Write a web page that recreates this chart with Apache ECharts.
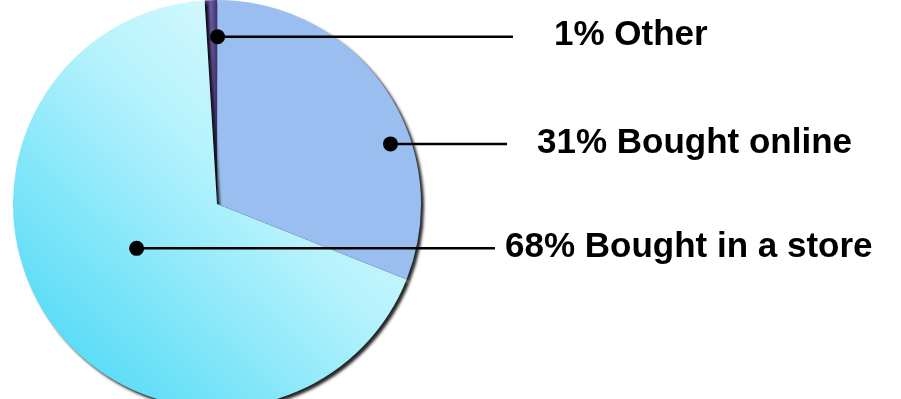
<!DOCTYPE html>
<html>
<head>
<meta charset="utf-8">
<script src="https://cdn.jsdelivr.net/npm/echarts@6/dist/echarts.min.js"></script>
<style>
html, body { margin: 0; padding: 0; background: #fff; }
#main { width: 901px; height: 399px; }
</style>
</head>
<body>
<div id="main"></div>
<script>
// data
var categories = ['Other', 'Bought online', 'Bought in a store'];
var shares = [1, 31, 68];
var labelTexts = ['1% Other', '31% Bought online', '68% Bought in a store'];

// pie geometry
var center = [217, 204];
var radius = 204;
var startAngle = 93.5;

// callouts: dot angle (deg clockwise from 12 o'clock) and distance (fraction of radius),
// where the text starts and where the leader line stops
var dotAngle = [0.2, 70.9, 241.1];
var dotRadius = [0.82, 0.90, 0.45];
var textX = [554, 537, 505];
var lineEndX = [513, 507, 495];

function dotPos(i) {
    var a = dotAngle[i] * Math.PI / 180;
    var r = dotRadius[i] * radius;
    return [center[0] + r * Math.sin(a), center[1] - r * Math.cos(a)];
}

var sliceColors = [
    new echarts.graphic.LinearGradient(0, 0, 1, 0, [
        { offset: 0, color: '#3b2d6b' },
        { offset: 0.5, color: '#6b5ba0' },
        { offset: 1, color: '#3b2d6b' }
    ]),
    '#9abef0',
    new echarts.graphic.LinearGradient(0, 1, 1, 0, [
        { offset: 0, color: '#3cd5f5' },
        { offset: 0.55, color: '#b4f2fc' },
        { offset: 1, color: '#f4feff' }
    ])
];

var chart = echarts.init(document.getElementById('main'));

var pieData = categories.map(function (name, i) {
    return {
        name: name,
        value: shares[i],
        itemStyle: { color: sliceColors[i] }
    };
});

// leader lines and dots
var callouts = [];
categories.forEach(function (name, i) {
    var p = dotPos(i);
    callouts.push({
        type: 'line',
        shape: { x1: p[0], y1: p[1], x2: lineEndX[i], y2: p[1] },
        style: { stroke: '#000', lineWidth: 2.5 },
        z: 99
    });
    callouts.push({
        type: 'circle',
        shape: { cx: p[0], cy: p[1], r: 7.5 },
        style: { fill: '#000' },
        z: 100
    });
});

chart.setOption({
    animation: false,
    series: [{
        type: 'pie',
        center: center,
        radius: radius,
        startAngle: startAngle,
        clockwise: true,
        silent: true,
        avoidLabelOverlap: false,
        itemStyle: {
            shadowColor: 'rgba(0,0,0,0.85)',
            shadowBlur: 3,
            shadowOffsetX: 3,
            shadowOffsetY: 3
        },
        label: {
            show: true,
            position: 'inside',
            overflow: 'none',
            formatter: function (p) { return labelTexts[p.dataIndex]; },
            color: '#000',
            fontFamily: '"Liberation Sans", Arial, sans-serif',
            fontWeight: 'bold',
            fontSize: 35
        },
        labelLine: { show: false },
        labelLayout: function (params) {
            var i = params.dataIndex;
            var p = dotPos(i);
            return {
                x: textX[i],
                y: p[1] - 1,
                align: 'left',
                verticalAlign: 'middle'
            };
        },
        data: pieData
    }],
    graphic: callouts
});
</script>
</body>
</html>
